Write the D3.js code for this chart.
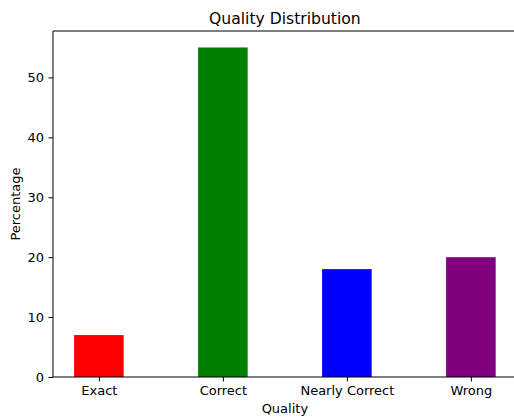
<!DOCTYPE html>
<html>
<head>
<meta charset="utf-8">
<script src="https://cdn.jsdelivr.net/npm/d3@7"></script>
<style>
  body { margin: 0; background: #fff; }
  svg { display: block; font-family: "DejaVu Sans", sans-serif; }
</style>
</head>
<body>
<svg id="chart" width="514" height="417"></svg>
<script>
const categories = ["Exact", "Correct", "Nearly Correct", "Wrong"];
const values = [7, 55, 18, 20];
const colors = ["red", "green", "blue", "purple"];
const yTicks = [0, 10, 20, 30, 40, 50];

(function () {
const svg = d3.select("#chart");
const mLeft = 53, mTop = 31, mBottom = 377;
const xUnit = 124;
const barWidth = 0.4;
const xMin = -0.37, xMax = 3.37;
const fs = 13;

const x = d3.scaleLinear().domain([xMin, xMax]).range([mLeft, mLeft + (xMax - xMin) * xUnit]);
const y = d3.scaleLinear().domain([0, 57.75]).range([mBottom, mTop]);

// bars
svg.selectAll("rect.bar").data(values).enter().append("rect")
  .attr("class", "bar")
  .attr("x", (d, i) => x(i - barWidth / 2))
  .attr("width", (d, i) => x(i + barWidth / 2) - x(i - barWidth / 2))
  .attr("y", d => y(d))
  .attr("height", d => y(0) - y(d))
  .attr("fill", (d, i) => colors[i]);

// frame
const mRight = x(xMax);
svg.append("path")
  .attr("d", `M${mLeft},${mBottom}V${mTop}H${mRight}V${mBottom}Z`)
  .attr("fill", "none").attr("stroke", "#000").attr("stroke-width", 1);

// y axis
const yAxis = d3.axisLeft(y).tickValues(yTicks).tickSize(4.5).tickPadding(4.5);
const gy = svg.append("g").attr("transform", `translate(${mLeft},0)`).call(yAxis);
gy.select(".domain").remove();
gy.selectAll("text").attr("font-size", fs).attr("fill", "#000").attr("font-family", "DejaVu Sans, sans-serif");

// x axis
const xAxis = d3.axisBottom(x).tickValues(categories.map((c, i) => i))
  .tickFormat(i => categories[i]).tickSize(4.5).tickPadding(4.5);
const gx = svg.append("g").attr("transform", `translate(0,${mBottom})`).call(xAxis);
gx.select(".domain").remove();
gx.selectAll("text").attr("font-size", fs).attr("fill", "#000").attr("font-family", "DejaVu Sans, sans-serif");

// labels
svg.append("text").attr("x", x(1.5)).attr("y", 413).attr("text-anchor", "middle")
  .attr("font-size", fs).text("Quality");
svg.append("text").attr("transform", `translate(20,${(mTop + mBottom) / 2}) rotate(-90)`)
  .attr("text-anchor", "middle").attr("font-size", fs).text("Percentage");
svg.append("text").attr("x", x(1.5)).attr("y", 24).attr("text-anchor", "middle")
  .attr("font-size", 15.6).text("Quality Distribution");
})();
</script>
</body>
</html>
